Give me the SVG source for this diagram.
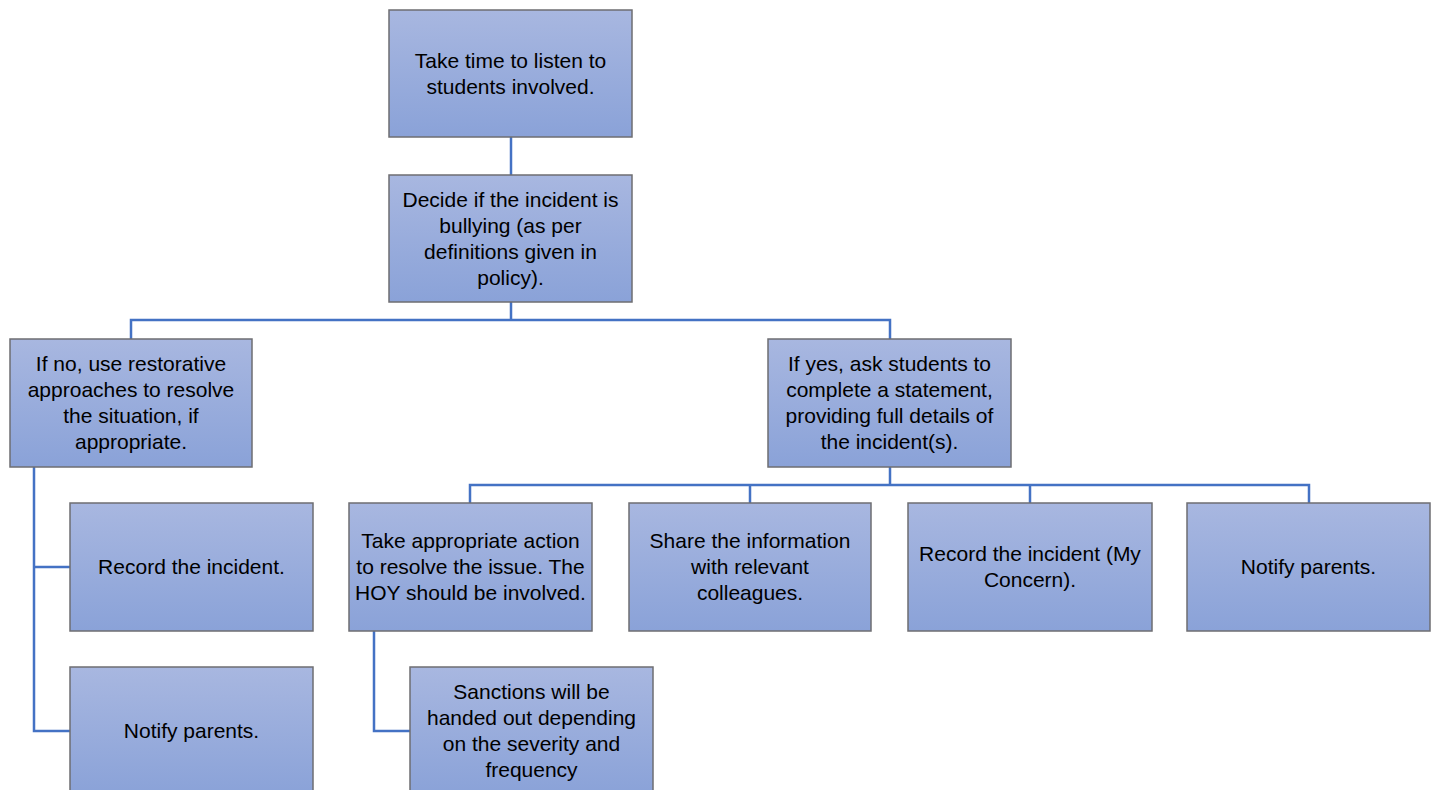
<svg xmlns="http://www.w3.org/2000/svg" width="1434" height="790" viewBox="0 0 1434 790">
<defs>
<linearGradient id="g" x1="0" y1="0" x2="0" y2="1">
<stop offset="0" stop-color="#A8B7E0"/>
<stop offset="1" stop-color="#8AA2D8"/>
</linearGradient>
<style>
.box{fill:url(#g);stroke:#6E6E72;stroke-width:1.5}
.t{font-family:"Liberation Sans",Arial,sans-serif;font-size:21px;fill:#000;text-anchor:middle}
.c{fill:none;stroke:#4472C4;stroke-width:2.5}
</style>
</defs>
<rect width="1434" height="790" fill="#fff"/>
<g id="connectors">
<path class="c" d="M511 137V175"/>
<path class="c" d="M511 302V320M131 339V320H890V339"/>
<path class="c" d="M34 467V731H70M34 567H70"/>
<path class="c" d="M890 467V485M470 503V485H1309V503M750 485V503M1030 485V503"/>
<path class="c" d="M374 631V731H410"/>
</g>
<g id="n1"><rect class="box" x="389" y="10" width="243" height="127"/>
<text class="t"><tspan x="510.5" y="68">Take time to listen to</tspan><tspan x="510.5" y="94">students involved.</tspan></text></g>
<g id="n2"><rect class="box" x="389" y="175" width="243" height="127"/>
<text class="t"><tspan x="510.5" y="207">Decide if the incident is</tspan><tspan x="510.5" y="233">bullying (as per</tspan><tspan x="510.5" y="259">definitions given in</tspan><tspan x="510.5" y="285">policy).</tspan></text></g>
<g id="n3"><rect class="box" x="10" y="339" width="242" height="128"/>
<text class="t"><tspan x="131" y="371">If no, use restorative</tspan><tspan x="131" y="397">approaches to resolve</tspan><tspan x="131" y="423">the situation, if</tspan><tspan x="131" y="449">appropriate.</tspan></text></g>
<g id="n4"><rect class="box" x="70" y="503" width="243" height="128"/>
<text class="t"><tspan x="191.5" y="574">Record the incident.</tspan></text></g>
<g id="n5"><rect class="box" x="70" y="667" width="243" height="128"/>
<text class="t"><tspan x="191.5" y="738">Notify parents.</tspan></text></g>
<g id="n6"><rect class="box" x="768" y="339" width="243" height="128"/>
<text class="t"><tspan x="889.5" y="371">If yes, ask students to</tspan><tspan x="889.5" y="397">complete a statement,</tspan><tspan x="889.5" y="423">providing full details of</tspan><tspan x="889.5" y="449">the incident(s).</tspan></text></g>
<g id="n7"><rect class="box" x="349" y="503" width="243" height="128"/>
<text class="t"><tspan x="470.5" y="548">Take appropriate action</tspan><tspan x="470.5" y="574">to resolve the issue. The</tspan><tspan x="470.5" y="600">HOY should be involved.</tspan></text></g>
<g id="n8"><rect class="box" x="629" y="503" width="242" height="128"/>
<text class="t"><tspan x="750" y="548">Share the information</tspan><tspan x="750" y="574">with relevant</tspan><tspan x="750" y="600">colleagues.</tspan></text></g>
<g id="n9"><rect class="box" x="908" y="503" width="244" height="128"/>
<text class="t"><tspan x="1030" y="561">Record the incident (My</tspan><tspan x="1030" y="587">Concern).</tspan></text></g>
<g id="n10"><rect class="box" x="1187" y="503" width="243" height="128"/>
<text class="t"><tspan x="1308.5" y="574">Notify parents.</tspan></text></g>
<g id="n11"><rect class="box" x="410" y="667" width="243" height="128"/>
<text class="t"><tspan x="531.5" y="699">Sanctions will be</tspan><tspan x="531.5" y="725">handed out depending</tspan><tspan x="531.5" y="751">on the severity and</tspan><tspan x="531.5" y="777">frequency</tspan></text></g>
</svg>
